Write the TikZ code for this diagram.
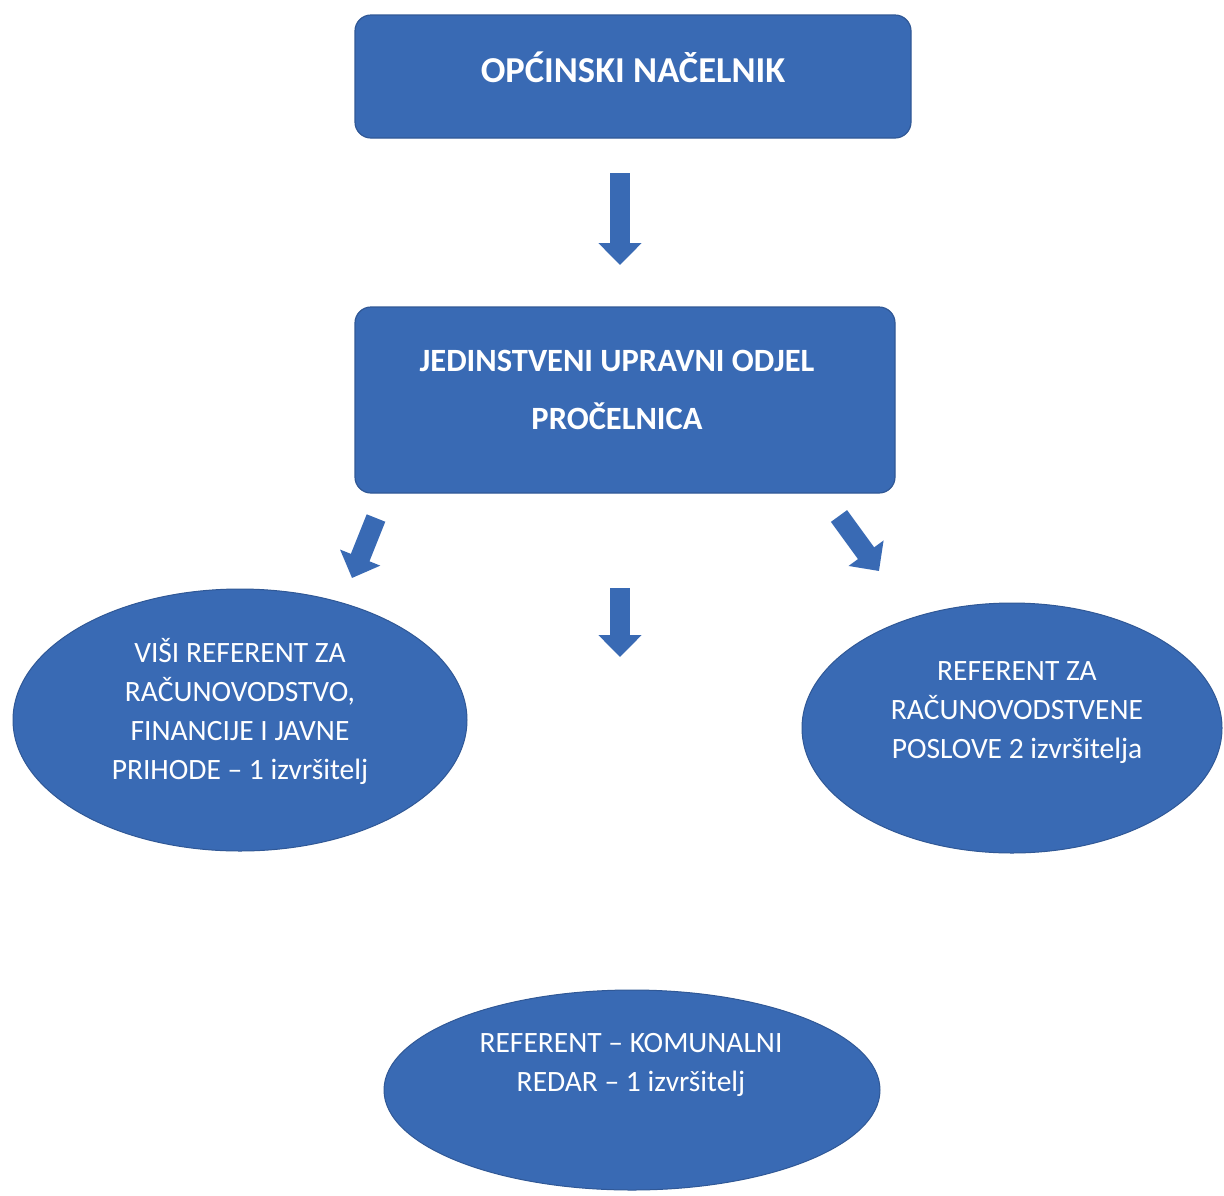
\documentclass[tikz,border=0pt]{standalone}
\usepackage{fontspec}
\setmainfont{Carlito}
\usetikzlibrary{arrows.meta,shapes.geometric}
\definecolor{orgblue}{RGB}{57,106,180}
\definecolor{orgedge}{RGB}{48,88,150}
\tikzset{
  orgbox/.style={draw=orgedge,line width=1.2pt,fill=orgblue,rounded corners=16pt,inner sep=0pt},
  orgoval/.style={ellipse,draw=orgedge,line width=1pt,fill=orgblue,inner sep=0pt},
  boldtxt/.style={text=white,font=\fontsize{32.5}{58}\selectfont\bfseries,align=center,inner sep=0pt},
  titletxt/.style={text=white,font=\fontsize{36.5}{44}\selectfont\bfseries,align=center,inner sep=0pt},
  plaintxt/.style={text=white,font=\fontsize{29.5}{39}\selectfont,align=center,inner sep=0pt},
  blockarrow/.style={draw=orgblue,line width=20pt,-{Triangle[width=42pt,length=22pt]}},
}
\begin{document}
\begin{tikzpicture}[x=1pt,y=-1pt]
\useasboundingbox[fill=white] (0,0) rectangle (1224,1195);
% boxes
\node[orgbox,minimum width=556pt,minimum height=123pt] (nacelnik) at (633,76.5) {};
\node[titletxt] (nacelniktxt) at (633,67) {OPĆINSKI NAČELNIK};
\node[orgbox,minimum width=540pt,minimum height=186pt] (odjel) at (625,400) {};
\node[boldtxt] (odjeltxt) at (617,390) {JEDINSTVENI UPRAVNI ODJEL\\PROČELNICA};
% ellipses
\node[orgoval,minimum width=454pt,minimum height=262pt] (visi) at (240,720) {};
\node[plaintxt] (visitxt) at (240,711) {VIŠI REFERENT ZA\\RAČUNOVODSTVO,\\FINANCIJE I JAVNE\\PRIHODE – 1 izvršitelj};
\node[orgoval,minimum width=420pt,minimum height=250pt] (racun) at (1012,728) {};
\node[plaintxt] (racuntxt) at (1017,713) {REFERENT ZA\\RAČUNOVODSTVENE\\POSLOVE 2 izvršitelja};
\node[orgoval,minimum width=496pt,minimum height=200pt] (redar) at (632,1090) {};
\node[plaintxt] (redartxt) at (631,1065) {REFERENT – KOMUNALNI\\REDAR – 1 izvršitelj};
% arrow end points
\coordinate (a1s) at (620,173);
\coordinate (a1e) at (620,265);
\coordinate (als) at (376,518);
\coordinate (ale) at (352,578);
\coordinate (ams) at (620,588);
\coordinate (ame) at (620,657);
\coordinate (ars) at (839,516);
\coordinate (are) at (879,571);
\draw[blockarrow] (a1s) -- (a1e);
\draw[blockarrow] (als) -- (ale);
\draw[blockarrow] (ams) -- (ame);
\draw[blockarrow] (ars) -- (are);
\end{tikzpicture}
\end{document}
